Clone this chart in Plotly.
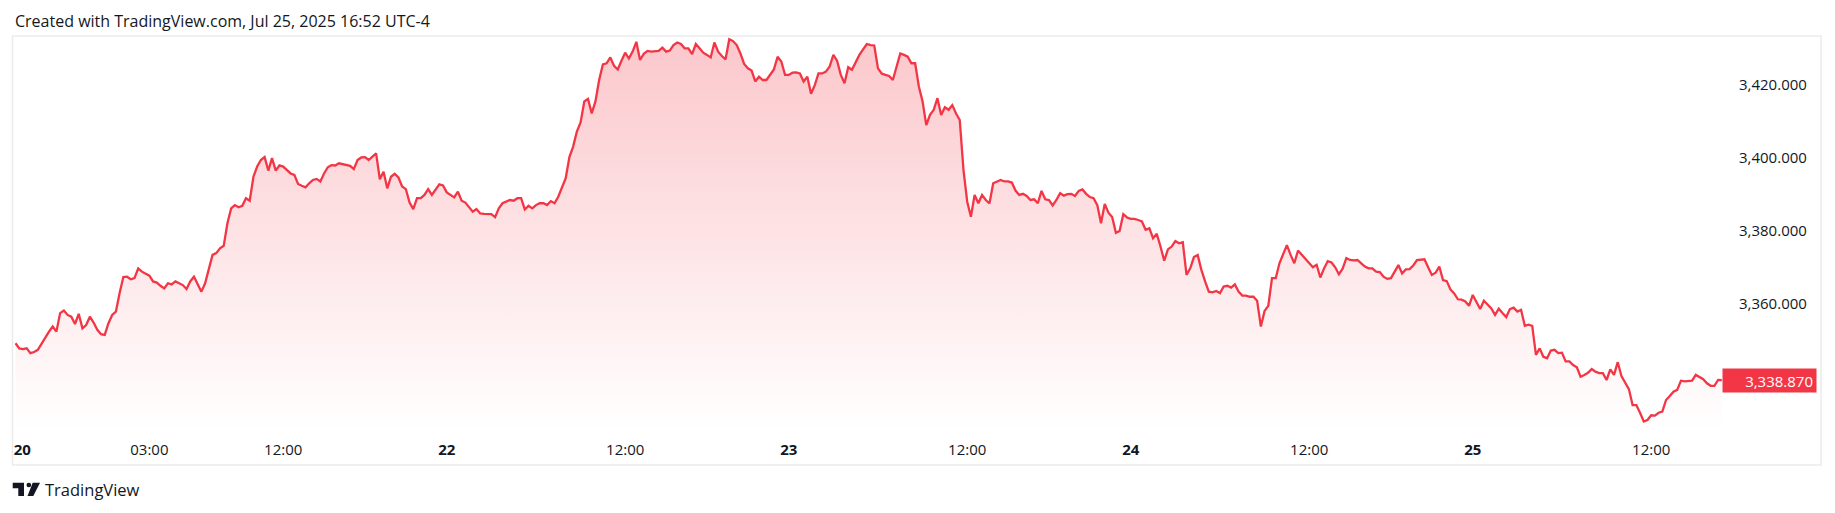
import plotly.graph_objects as go
from datetime import datetime, timedelta

# 15-minute closes, one list per trading session (UTC-4)
session_jul21 = [
    3349.0, 3347.6, 3347.4, 3347.6, 3346.3, 3346.6, 3347.2, 3349.0, 3350.4, 3352.2,
    3353.6, 3352.2, 3357.3, 3358.0, 3356.8, 3356.3, 3354.3, 3357.1, 3353.1, 3354.0,
    3356.3, 3354.7, 3352.7, 3351.5, 3351.3, 3354.5, 3356.8, 3357.7, 3362.8, 3367.2,
    3367.3, 3366.6, 3366.9, 3369.6, 3368.7, 3368.2, 3367.6, 3366.0, 3365.7, 3364.8,
    3364.1, 3365.5, 3365.2, 3366.0, 3365.5, 3365.0, 3363.9, 3366.0, 3367.3, 3365.0,
    3363.2, 3365.5, 3369.3, 3373.3, 3373.8, 3375.1, 3375.8, 3382.0, 3386.1, 3387.0,
    3386.4, 3386.8, 3388.9, 3388.2, 3394.8, 3397.6, 3399.4, 3400.2, 3396.5, 3399.9,
    3396.5, 3397.9, 3397.6, 3396.7, 3395.7, 3395.3, 3392.8, 3392.3, 3391.9, 3393.0,
    3393.9, 3394.2, 3393.5, 3395.7, 3397.4, 3398.0, 3397.9, 3398.5, 3398.2, 3397.9,
    3397.8, 3396.9,
]
session_jul22 = [
    3399.4, 3400.1, 3400.2, 3399.4, 3400.3, 3401.2, 3394.1, 3396.2,
    3391.6, 3394.8, 3395.6, 3394.6, 3392.1, 3391.4, 3387.7, 3385.9, 3388.9, 3388.9,
    3389.8, 3391.4, 3389.8, 3391.4, 3392.7, 3392.4, 3390.5, 3389.8, 3389.1, 3390.7,
    3388.2, 3387.7, 3386.3, 3385.2, 3385.9, 3384.7, 3384.6, 3384.6, 3384.5, 3383.7,
    3386.1, 3387.5, 3388.0, 3388.4, 3388.2, 3388.9, 3388.9, 3385.8, 3386.8, 3386.1,
    3387.0, 3387.5, 3387.5, 3387.0, 3388.1, 3387.5, 3389.3, 3391.6, 3394.4, 3400.2,
    3403.1, 3407.2, 3409.7, 3415.5, 3416.2, 3412.2, 3415.5, 3421.4, 3425.7, 3426.0,
    3427.6, 3425.3, 3424.3, 3426.7, 3428.9, 3427.3, 3429.2, 3431.9, 3426.9, 3428.6,
    3429.4, 3429.2, 3429.3, 3429.4, 3430.3, 3429.2, 3429.5, 3431.0, 3431.7, 3431.3,
    3430.1, 3430.1, 3428.5, 3431.3,
]
session_jul23 = [
    3430.1, 3428.9, 3428.3, 3427.6, 3431.7, 3429.2,
    3428.0, 3427.1, 3432.6, 3432.1, 3431.0, 3428.7, 3425.8, 3424.6, 3424.0, 3421.0,
    3422.3, 3421.4, 3421.4, 3422.8, 3424.3, 3427.8, 3426.5, 3422.8, 3422.8, 3423.4,
    3423.5, 3423.2, 3421.0, 3422.3, 3417.6, 3420.0, 3423.2, 3423.2, 3423.7, 3425.1,
    3428.3, 3426.7, 3422.8, 3420.5, 3424.9, 3424.2, 3426.5, 3428.3, 3429.8, 3431.3,
    3431.0, 3430.9, 3424.6, 3423.2, 3422.8, 3422.5, 3421.4, 3425.4, 3428.7, 3428.3,
    3427.8, 3426.0, 3426.0, 3419.6, 3415.5, 3409.0, 3411.8, 3413.2, 3416.4, 3411.8,
    3413.9, 3413.2, 3414.5, 3412.2, 3410.4, 3396.7, 3388.0, 3383.8, 3389.8, 3387.5,
    3389.8, 3388.4, 3387.5, 3393.0, 3393.5, 3393.9, 3393.5, 3393.5, 3393.2, 3391.0,
    3389.8, 3390.1, 3389.5, 3388.4, 3388.6, 3387.5,
]
session_jul24 = [
    3390.9, 3388.6, 3388.4, 3386.9,
    3388.4, 3390.3, 3389.6, 3390.0, 3390.1, 3389.5, 3390.9, 3391.3, 3390.1, 3389.2,
    3388.9, 3387.0, 3382.0, 3387.3, 3384.9, 3383.7, 3379.4, 3379.9, 3384.5, 3383.6,
    3383.2, 3383.2, 3382.9, 3382.5, 3380.2, 3380.6, 3377.9, 3379.1, 3375.6, 3371.7,
    3374.8, 3375.6, 3377.1, 3376.5, 3376.8, 3367.8, 3369.6, 3372.7, 3373.3, 3369.2,
    3366.0, 3363.2, 3363.0, 3363.4, 3362.8, 3364.6, 3364.8, 3364.3, 3365.2, 3363.2,
    3362.1, 3362.1, 3361.8, 3361.8, 3360.7, 3353.6, 3357.9, 3359.3, 3366.9, 3366.9,
    3371.0, 3373.6, 3376.0, 3373.3, 3371.0, 3374.5, 3373.3, 3372.1, 3371.0, 3369.9,
    3370.6, 3367.1, 3369.6, 3371.6, 3371.2, 3369.9, 3368.0, 3369.5, 3372.4, 3371.9,
    3371.8, 3371.9, 3371.0, 3370.1, 3369.6, 3369.6, 3368.7, 3368.6,
]
session_jul25 = [
    3367.3, 3366.7,
    3366.9, 3368.7, 3370.5, 3368.2, 3369.3, 3369.4, 3370.4, 3371.9, 3371.9, 3372.1,
    3369.9, 3367.8, 3368.4, 3370.1, 3366.4, 3366.1, 3363.8, 3362.7, 3361.1, 3361.0,
    3360.5, 3359.3, 3362.3, 3360.5, 3358.4, 3360.7, 3359.5, 3358.6, 3356.8, 3358.5,
    3357.3, 3356.2, 3358.4, 3358.8, 3357.7, 3358.2, 3353.8, 3354.1, 3353.8, 3345.8,
    3347.6, 3345.3, 3344.9, 3347.0, 3347.2, 3346.3, 3346.4, 3344.0, 3344.0, 3343.0,
    3342.4, 3339.8, 3340.3, 3340.9, 3341.9, 3341.2, 3340.8, 3340.8, 3338.9, 3341.8,
    3340.3, 3343.8, 3340.0, 3338.0, 3336.4, 3332.0, 3332.0, 3329.9, 3327.5, 3327.9,
    3329.2, 3329.1, 3329.9, 3330.2, 3333.4, 3334.5, 3335.7, 3336.2, 3338.7, 3338.5,
    3338.7, 3338.7, 3340.3, 3339.8, 3339.1, 3338.0, 3337.3, 3337.3, 3338.9, 3338.87,
]

tick_times = ["2025-07-20 18:00", "2025-07-21 03:00", "2025-07-21 12:00",
              "2025-07-22 00:00", "2025-07-22 12:00", "2025-07-23 00:00",
              "2025-07-23 12:00", "2025-07-24 00:00", "2025-07-24 12:00",
              "2025-07-25 00:00", "2025-07-25 12:00"]
tick_labels = ["<b>20</b>", "03:00", "12:00", "<b>22</b>", "12:00", "<b>23</b>",
               "12:00", "<b>24</b>", "12:00", "<b>25</b>", "12:00"]
price_ticks = [3360, 3380, 3400, 3420]

prices = session_jul21 + session_jul22 + session_jul23 + session_jul24 + session_jul25

# bar timestamps: 15-minute bars, daily break 17:00-18:00
times = []
t = datetime(2025, 7, 20, 18, 0)
for _ in prices:
    times.append(t)
    t += timedelta(minutes=15)
    if t.hour == 17:
        t += timedelta(hours=1)
idx = list(range(len(prices)))
tick_idx = [times.index(datetime.fromisoformat(s)) for s in tick_times]
tick_idx[0] += 1.8  # first label nudged inside the pane, as TradingView does

RED = "#F23645"
TXT = "#131722"
FONT = "Open Sans, Noto Sans, sans-serif"
y_lo, y_hi = 3325.15, 3433.5

fig = go.Figure()
fig.add_trace(go.Scatter(
    x=idx, y=prices, mode="lines",
    line=dict(color=RED, width=2.3),
    fill="tozeroy",
    fillgradient=dict(type="vertical",
                      colorscale=[[0, "rgba(242,54,69,0.0)"], [1, "rgba(242,54,69,0.28)"]],
                      start=y_lo, stop=y_hi),
    text=[tt.strftime("%Y-%m-%d %H:%M") for tt in times],
    hoverinfo="text+y", showlegend=False,
))

fig.update_layout(
    width=1835, height=513,
    margin=dict(l=12, r=113, t=36, b=83, pad=0),
    paper_bgcolor="white", plot_bgcolor="white",
    font=dict(family=FONT, color=TXT, size=15),
    xaxis=dict(range=[-0.95, 459.05], showgrid=False, zeroline=False, showline=False,
               tickvals=tick_idx, ticktext=tick_labels, ticks="outside", ticklen=6,
               tickcolor="rgba(0,0,0,0)", tickfont=dict(size=15, color=TXT),
               automargin=False, fixedrange=True),
    yaxis=dict(range=[y_lo, y_hi], side="right", showgrid=False, zeroline=False,
               showline=False, tickvals=price_ticks,
               ticktext=[f"{v:,.3f}" for v in price_ticks], ticks="outside", ticklen=13,
               tickcolor="rgba(0,0,0,0)", tickfont=dict(size=15, color=TXT),
               automargin=False, fixedrange=True),
)

# outer frame
fig.add_shape(type="rect", xref="paper", yref="paper", x0=0.0003, x1=1.0579,
              y0=-0.0888, y1=1.0, line=dict(color="#ebebeb", width=1.5), layer="below")

# last price label
fig.add_annotation(xref="paper", yref="y", x=1.0, y=prices[-1], xanchor="left",
                   yanchor="middle", text=f"{prices[-1]:,.3f}", showarrow=False,
                   bgcolor=RED, borderpad=3, width=87, height=17, align="right",
                   font=dict(color="white", size=15, family=FONT))

# header
fig.add_annotation(xref="paper", yref="paper", x=0.0006, y=1.038, xanchor="left",
                   yanchor="middle", showarrow=False,
                   text="Created with TradingView.com, Jul 25, 2025 16:52 UTC-4",
                   font=dict(size=16, color=TXT, family=FONT))

# TradingView logo
logo = dict(xref="paper", yref="paper", xanchor=0, yanchor=0, xsizemode="pixel",
            ysizemode="pixel", fillcolor=TXT, line=dict(width=0))
fig.add_shape(type="path", path="M 0.7,-52.7 L 12,-52.7 L 12,-66 L 6.3,-66 L 6.3,-58.3 L 0.7,-58.3 Z", **logo)
fig.add_shape(type="circle", x0=14.5, x1=19.2, y0=-57.3, y1=-52.7, **logo)
fig.add_shape(type="path", path="M 20.7,-52.7 L 28,-52.7 L 21.3,-66 L 15.5,-66 Z", **logo)
fig.add_annotation(xref="paper", yref="paper", x=0.0183, y=-0.151, xanchor="left",
                   yanchor="middle", showarrow=False, text="TradingView",
                   font=dict(size=16.5, color=TXT, family=FONT))

fig.write_html("out.html", config={"displayModeBar": False},
               post_script="document.body.style.margin='0';")
